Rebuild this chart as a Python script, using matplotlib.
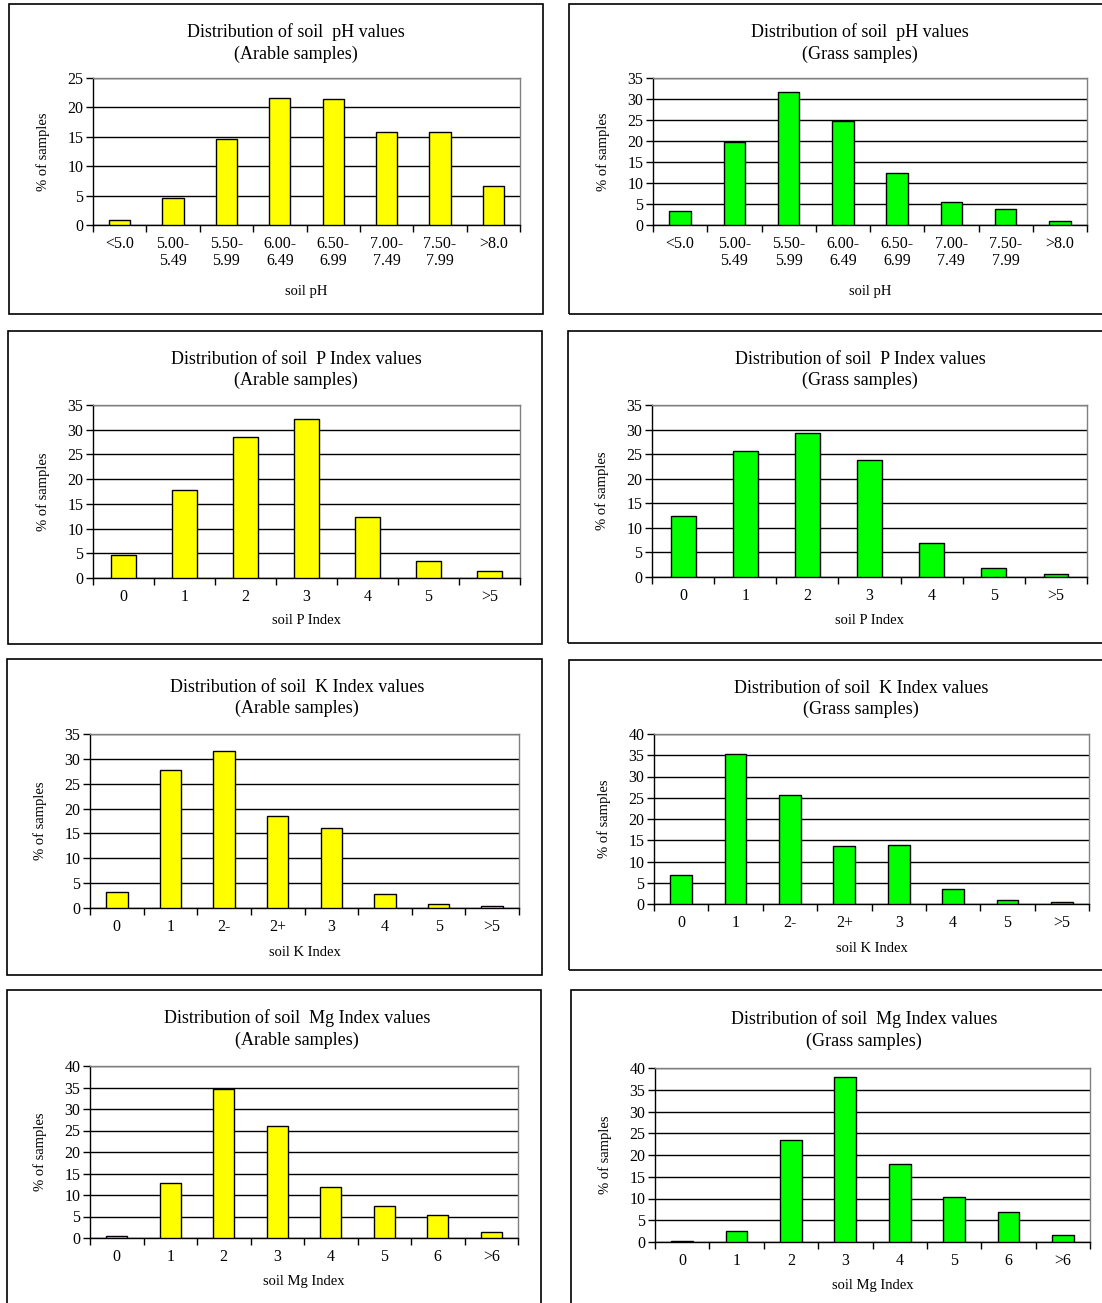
import matplotlib
matplotlib.use("Agg")
import matplotlib.pyplot as plt
from matplotlib.patches import Rectangle
from matplotlib.ticker import FixedLocator, MultipleLocator

plt.rcParams["font.family"] = ["Liberation Serif", "DejaVu Serif"]

# ===== Data =====
ph_labels = ["<5.0", "5.00-\n5.49", "5.50-\n5.99", "6.00-\n6.49", "6.50-\n6.99",
             "7.00-\n7.49", "7.50-\n7.99", ">8.0"]
ph_arable = [0.8, 4.6, 14.6, 21.6, 21.4, 15.8, 15.8, 6.6]
ph_grass = [3.4, 19.7, 31.6, 24.8, 12.5, 5.4, 3.7, 1.0]

p_labels = ["0", "1", "2", "3", "4", "5", ">5"]
p_arable = [4.6, 17.9, 28.6, 32.1, 12.4, 3.5, 1.5]
p_grass = [12.5, 25.6, 29.4, 23.9, 7.0, 1.8, 0.6]

k_labels = ["0", "1", "2-", "2+", "3", "4", "5", ">5"]
k_arable = [3.2, 27.8, 31.6, 18.6, 16.1, 2.9, 0.9, 0.4]
k_grass = [6.9, 35.4, 25.7, 13.7, 14.0, 3.6, 0.9, 0.5]

mg_labels = ["0", "1", "2", "3", "4", "5", "6", ">6"]
mg_arable = [0.5, 12.9, 34.7, 26.0, 11.9, 7.4, 5.4, 1.4]
mg_grass = [0.3, 2.5, 23.5, 38.0, 17.9, 10.4, 6.8, 1.7]

W, H = 1102, 1303
YELLOW = "#FFFF00"
GREEN = "#00FF00"


def px_axes(fig, x0, x1, y0, y1):
    return fig.add_axes([x0 / W, 1 - y1 / H, (x1 - x0) / W, (y1 - y0) / H])


def draw_box(fig, x0, x1, y0, y1):
    rect = Rectangle((x0 / W, 1 - y1 / H), (x1 - x0) / W, (y1 - y0) / H,
                     transform=fig.transFigure, fill=False,
                     edgecolor="black", linewidth=1.2)
    fig.add_artist(rect)


def draw_chart(fig, axpos, box, title_x, title_y, title, labels, values,
               color, ymax, xlabel, xlabel_dy):
    draw_box(fig, *box)
    ax = px_axes(fig, *axpos)
    n = len(values)
    xs = list(range(n))
    ax.bar(xs, values, width=0.4, color=color, edgecolor="black",
           linewidth=1.0, zorder=3)
    ax.set_xlim(-0.5, n - 0.5)
    ax.set_ylim(0, ymax)
    ax.yaxis.set_major_locator(MultipleLocator(5))
    ax.grid(axis="y", color="black", linewidth=1.0, zorder=1)
    ax.set_axisbelow(True)

    ax.set_xticks(xs)
    ax.set_xticklabels(labels, fontsize=11.5, linespacing=1.05)
    ax.tick_params(axis="x", which="major", length=0, pad=8)
    ax.xaxis.set_minor_locator(FixedLocator([i - 0.5 for i in range(n + 1)]))
    ax.tick_params(axis="x", which="minor", length=5, width=1.0, direction="out")
    ax.tick_params(axis="y", labelsize=11.5, length=5, width=1.0, pad=2)

    for s in ["top", "right"]:
        ax.spines[s].set_color("#808080")
        ax.spines[s].set_linewidth(1.0)
    for s in ["left", "bottom"]:
        ax.spines[s].set_color("black")
        ax.spines[s].set_linewidth(1.0)

    ax.set_ylabel("% of samples", fontsize=10.5)
    ax.yaxis.set_label_coords(-43 / (axpos[1] - axpos[0]), 0.5)
    ax.set_xlabel(xlabel, fontsize=10.5, va="center")
    ax.xaxis.set_label_coords(0.5, -xlabel_dy / (axpos[3] - axpos[2]))

    fig.text(title_x / W, 1 - title_y / H, title, ha="center", va="center",
             fontsize=13, linespacing=1.3)
    return ax


fig = plt.figure(figsize=(W / 100, H / 100), dpi=100)

charts = [
    # axes x0, x1, y0, y1 ; box x0, x1, y0, y1 ; title x, y
    ((93, 520, 78, 225), (9, 543, 4, 314), 296, 43,
     "Distribution of soil  pH values\n(Arable samples)", ph_labels, ph_arable,
     YELLOW, 25, "soil pH", 66),
    ((653, 1087, 78, 225), (569, 1110, 4, 314), 860, 43,
     "Distribution of soil  pH values\n(Grass samples)", ph_labels, ph_grass,
     GREEN, 35, "soil pH", 66),
    ((93, 520, 405, 578), (8, 542, 331, 644), 296, 370,
     "Distribution of soil  P Index values\n(Arable samples)", p_labels, p_arable,
     YELLOW, 35, "soil P Index", 43),
    ((652, 1087, 405, 577), (568, 1110, 331, 643), 860, 370,
     "Distribution of soil  P Index values\n(Grass samples)", p_labels, p_grass,
     GREEN, 35, "soil P Index", 43),
    ((90, 519, 734, 908), (7, 542, 659, 975), 297, 698,
     "Distribution of soil  K Index values\n(Arable samples)", k_labels, k_arable,
     YELLOW, 35, "soil K Index", 44),
    ((654, 1089, 734, 904), (569, 1110, 660, 970), 861, 699,
     "Distribution of soil  K Index values\n(Grass samples)", k_labels, k_grass,
     GREEN, 40, "soil K Index", 44),
    ((90, 518, 1066, 1238), (7, 541, 990, 1320), 297, 1029,
     "Distribution of soil  Mg Index values\n(Arable samples)", mg_labels, mg_arable,
     YELLOW, 40, "soil Mg Index", 43),
    ((655, 1090, 1068, 1242), (571, 1110, 990, 1320), 864, 1030,
     "Distribution of soil  Mg Index values\n(Grass samples)", mg_labels, mg_grass,
     GREEN, 40, "soil Mg Index", 43),
]

for c in charts:
    draw_chart(fig, *c)

fig.savefig("out.png", dpi=100)
